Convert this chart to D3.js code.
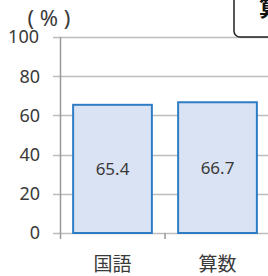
<!DOCTYPE html>
<html>
<head>
<meta charset="utf-8">
<script src="https://cdn.jsdelivr.net/npm/d3@7"></script>
<style>
  body { margin: 0; background: #fff; }
  text { font-family: "Noto Sans", "Noto Sans CJK JP", sans-serif; }
</style>
</head>
<body>
<div id="chart"></div>
<script>
var categories = ["国語", "算数"];
var values = [65.4, 66.7];
var yTicks = [0, 20, 40, 60, 80, 100];

var W = 268, H = 276;
var margin = {top: 37, right: -2, bottom: 43, left: 60};
var width = W - margin.left - margin.right,
    height = H - margin.top - margin.bottom;

var svg = d3.select("#chart").append("svg")
    .attr("width", W)
    .attr("height", H);

var g = svg.append("g")
    .attr("transform", "translate(" + margin.left + "," + margin.top + ")");

var x = d3.scaleBand()
    .domain(categories)
    .range([0, width])
    .paddingInner(0.25)
    .paddingOuter(0.125);

var y = d3.scaleLinear()
    .domain([0, 100])
    .range([height, 0]);

// gridlines
g.selectAll("line.grid")
  .data(yTicks)
  .enter().append("line")
    .attr("class", "grid")
    .attr("x1", -7)
    .attr("x2", width)
    .attr("y1", function(d) { return Math.round(y(d)) + 0.5; })
    .attr("y2", function(d) { return Math.round(y(d)) + 0.5; })
    .style("stroke", "#bdbdbd")
    .style("stroke-width", 1.5);

// y tick labels
g.selectAll("text.ytick")
  .data(yTicks)
  .enter().append("text")
    .attr("class", "ytick")
    .attr("x", function(d) { return d == 100 ? -21 : -20; })
    .attr("y", function(d) { return y(d); })
    .attr("dy", "0.36em")
    .style("text-anchor", "end")
    .style("font-size", "18px")
    .style("fill", "#3a3a3a")
    .text(function(d) { return d; });

// "(%)" unit label, sits just above the 100 tick
g.append("text")
    .attr("x", -11)
    .attr("y", -19)
    .attr("dy", "0.36em")
    .style("text-anchor", "middle")
    .style("font-size", "22px")
    .style("fill", "#3a3a3a")
    .text("( % )");

// y axis line
g.append("line")
    .attr("x1", 0.5).attr("x2", 0.5)
    .attr("y1", 0).attr("y2", height + 6)
    .style("stroke", "#999")
    .style("stroke-width", 1.5);

// category boundary ticks
var bounds = [x.step()];
g.selectAll("line.xtick")
  .data(bounds)
  .enter().append("line")
    .attr("class", "xtick")
    .attr("x1", function(d) { return d; })
    .attr("x2", function(d) { return d; })
    .attr("y1", height)
    .attr("y2", height + 6)
    .style("stroke", "#999")
    .style("stroke-width", 1.5);

// bars
g.selectAll("rect.bar")
  .data(values)
  .enter().append("rect")
    .attr("class", "bar")
    .attr("x", function(d, i) { return x(categories[i]); })
    .attr("y", function(d) { return y(d); })
    .attr("width", x.bandwidth())
    .attr("height", function(d) { return height - y(d); })
    .style("fill", "#dae3f3")
    .style("stroke", "#2e7dc4")
    .style("stroke-width", 2);

// value labels
g.selectAll("text.val")
  .data(values)
  .enter().append("text")
    .attr("class", "val")
    .attr("x", function(d, i) { return x(categories[i]) + x.bandwidth() / 2; })
    .attr("y", function(d) { return y(d) + (height - y(d)) / 2; })
    .attr("dy", "0.36em")
    .style("text-anchor", "middle")
    .style("font-size", "17px")
    .style("fill", "#3a3a3a")
    .text(function(d) { return d.toFixed(1); });

// category labels
g.selectAll("text.cat")
  .data(categories)
  .enter().append("text")
    .attr("class", "cat")
    .attr("x", function(d) { return x(d) + x.bandwidth() / 2; })
    .attr("y", height + 31)
    .attr("dy", "0.36em")
    .style("text-anchor", "middle")
    .style("font-family", "'Noto Sans CJK JP', sans-serif")
    .style("font-size", "19px")
    .style("fill", "#3a3a3a")
    .text(function(d) { return d; });

// cut-off callout box at top right
svg.append("rect")
    .attr("x", 234)
    .attr("y", -10)
    .attr("width", 60)
    .attr("height", 47)
    .attr("rx", 6)
    .style("fill", "#fff")
    .style("stroke", "#222")
    .style("stroke-width", 1.5);

svg.append("text")
    .attr("x", 259)
    .attr("y", 16)
    .style("font-family", "'Noto Sans CJK JP', sans-serif")
    .style("font-weight", "bold")
    .style("font-size", "22px")
    .style("fill", "#111")
    .text("算数");
</script>
</body>
</html>
